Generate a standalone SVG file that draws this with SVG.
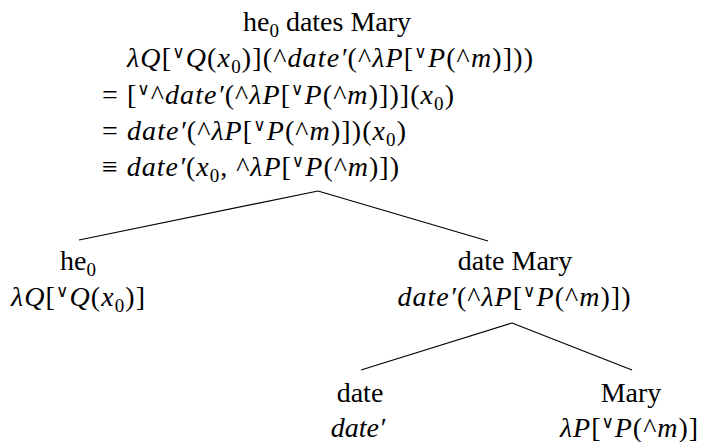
<svg xmlns="http://www.w3.org/2000/svg" width="703" height="442" viewBox="0 0 703 442" font-family="'Liberation Serif', serif" font-size="28">
<style>
text { font-family: 'Liberation Serif', 'DejaVu Serif', serif; font-size: 28px; fill: #000; }
.i { font-style: italic; }
.sub { font-size: 19px; baseline-shift: -6px; }
.sup { font-size: 17px; baseline-shift: 9px; }
.c { text-anchor: middle; }
#connectors line { stroke: #000; stroke-width: 1.2; }
</style>
<rect width="703" height="442" fill="#fff"/>
<g id="connectors">
<line x1="318" y1="191" x2="79" y2="240"/>
<line x1="318" y1="191" x2="488" y2="241"/>
<line x1="512" y1="323" x2="361" y2="370"/>
<line x1="512" y1="323" x2="632" y2="370"/>
</g>
<g id="root">
<text class="c" x="327" y="31">he<tspan class="sub">0</tspan> dates Mary</text>
<text x="127" y="67" textLength="406" lengthAdjust="spacing"><tspan class="i">λQ</tspan>[<tspan class="sup">∨</tspan><tspan class="i">Q</tspan>(<tspan class="i">x</tspan><tspan class="sub">0</tspan>)](^<tspan class="i">date′</tspan>(^<tspan class="i">λP</tspan>[<tspan class="sup">∨</tspan><tspan class="i">P</tspan>(^<tspan class="i">m</tspan>)]))</text>
<text x="102" y="104" textLength="352" lengthAdjust="spacing">= [<tspan class="sup">∨</tspan>^<tspan class="i">date′</tspan>(^<tspan class="i">λP</tspan>[<tspan class="sup">∨</tspan><tspan class="i">P</tspan>(^<tspan class="i">m</tspan>)])](<tspan class="i">x</tspan><tspan class="sub">0</tspan>)</text>
<text x="102" y="140" textLength="304" lengthAdjust="spacing">= <tspan class="i">date′</tspan>(^<tspan class="i">λP</tspan>[<tspan class="sup">∨</tspan><tspan class="i">P</tspan>(^<tspan class="i">m</tspan>)])(<tspan class="i">x</tspan><tspan class="sub">0</tspan>)</text>
<text x="102" y="176" textLength="297" lengthAdjust="spacing">≡ <tspan class="i">date′</tspan>(<tspan class="i">x</tspan><tspan class="sub">0</tspan>, ^<tspan class="i">λP</tspan>[<tspan class="sup">∨</tspan><tspan class="i">P</tspan>(^<tspan class="i">m</tspan>)])</text>
</g>
<g id="he0">
<text class="c" x="78" y="270">he<tspan class="sub">0</tspan></text>
<text class="c" x="78" y="306" textLength="134" lengthAdjust="spacing"><tspan class="i">λQ</tspan>[<tspan class="sup">∨</tspan><tspan class="i">Q</tspan>(<tspan class="i">x</tspan><tspan class="sub">0</tspan>)]</text>
</g>
<g id="dateMary">
<text class="c" x="515" y="270">date Mary</text>
<text class="c" x="514" y="306" textLength="233" lengthAdjust="spacing"><tspan class="i">date′</tspan>(^<tspan class="i">λP</tspan>[<tspan class="sup">∨</tspan><tspan class="i">P</tspan>(^<tspan class="i">m</tspan>)])</text>
</g>
<g id="date">
<text class="c" x="360" y="402">date</text>
<text class="c" x="358" y="437"><tspan class="i">date′</tspan></text>
</g>
<g id="mary">
<text class="c" x="631" y="402">Mary</text>
<text class="c" x="629" y="437" textLength="138" lengthAdjust="spacing"><tspan class="i">λP</tspan>[<tspan class="sup">∨</tspan><tspan class="i">P</tspan>(^<tspan class="i">m</tspan>)]</text>
</g>
</svg>
